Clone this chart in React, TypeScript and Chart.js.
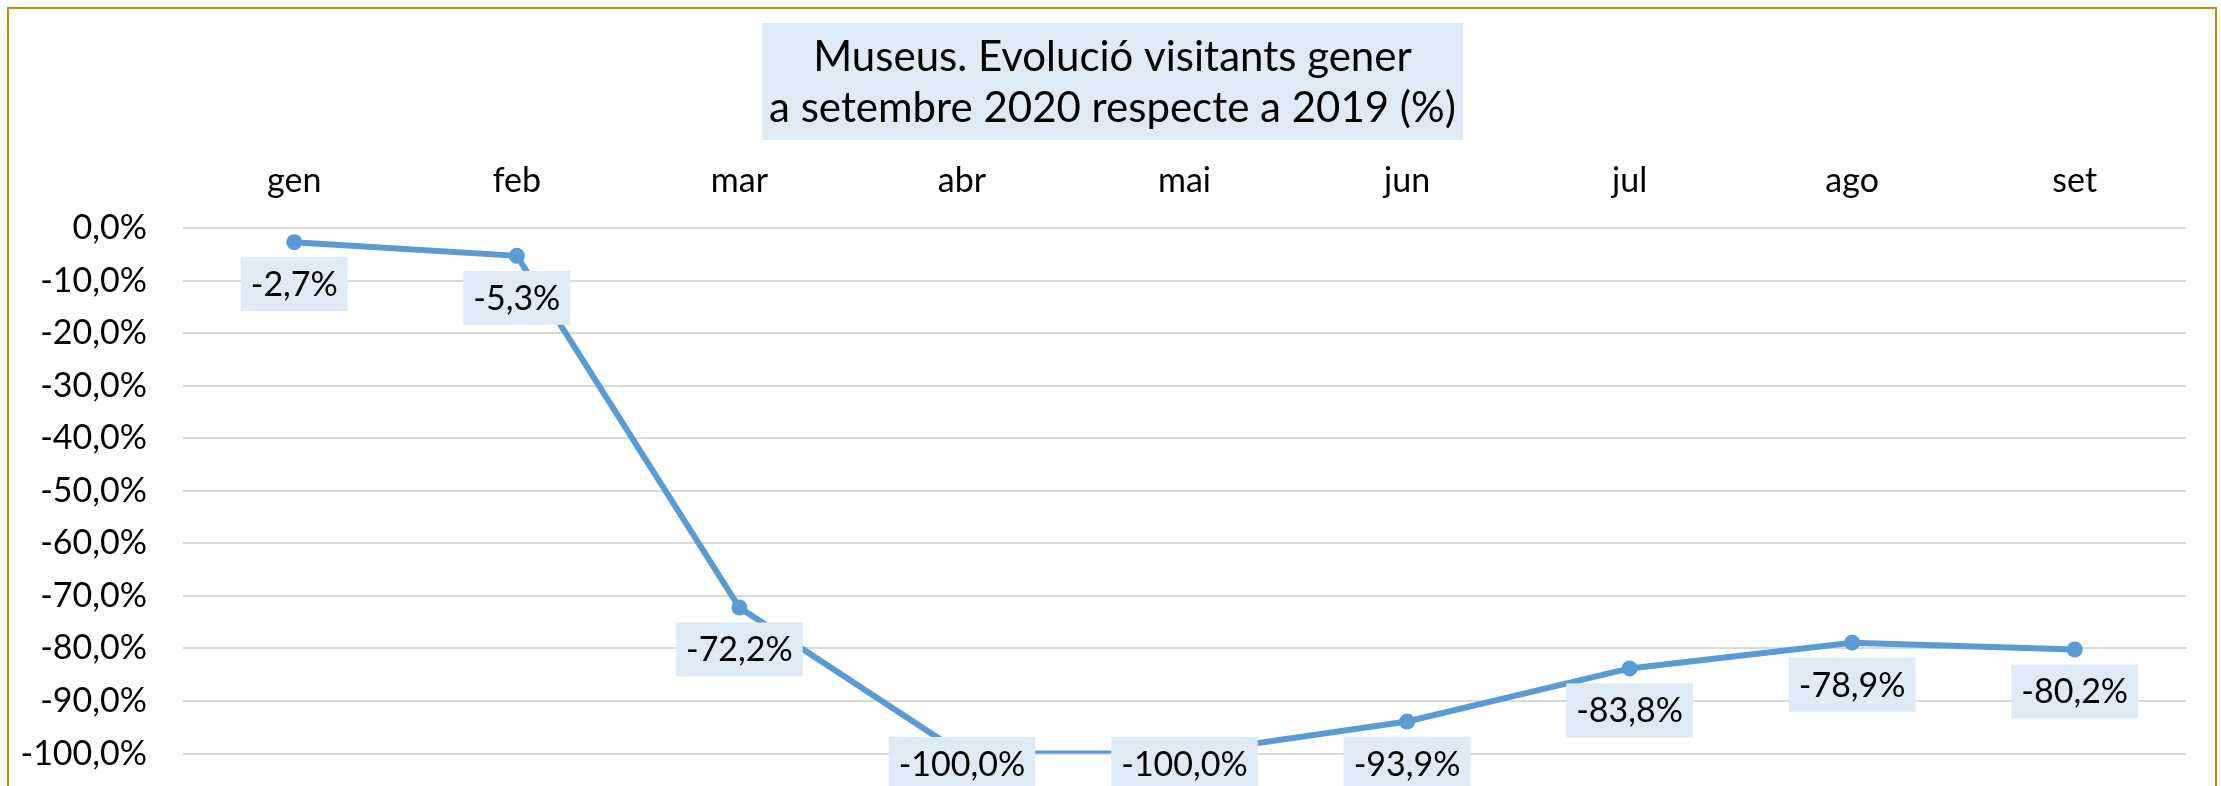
import React, { useEffect, useRef } from "react";
import { Chart, registerables } from "chart.js";

Chart.register(...registerables);

const months: string[] = ["gen", "feb", "mar", "abr", "mai", "jun", "jul", "ago", "set"];
const variation: number[] = [-2.7, -5.3, -72.2, -100.0, -100.0, -93.9, -83.8, -78.9, -80.2];
const titleLines: string[] = ["Museus. Evolució visitants gener", "a setembre 2020 respecte a 2019 (%)"];
const yMin = -100;
const yMax = 0;
const yStep = 10;

const FONT = "Lato, 'Open Sans', sans-serif";
const fmt = (v: number) => v.toFixed(1).replace(".", ",") + "%";

const framePlugin = {
  id: "frame",
  beforeDraw(chart: any) {
    const ctx = chart.ctx;
    ctx.save();
    ctx.fillStyle = "#ffffff";
    ctx.fillRect(0, 0, chart.width, chart.height);
    ctx.strokeStyle = "#BF9000";
    ctx.lineWidth = 2;
    ctx.beginPath();
    ctx.moveTo(8, chart.height + 5);
    ctx.lineTo(8, 8);
    ctx.lineTo(2216, 8);
    ctx.lineTo(2216, chart.height + 5);
    ctx.stroke();

    // title box
    ctx.fillStyle = "#DEEBF7";
    ctx.fillRect(762, 23, 701, 117);
    ctx.fillStyle = "#000000";
    ctx.font = `42px ${FONT}`;
    ctx.textAlign = "center";
    ctx.textBaseline = "alphabetic";
    ctx.fillText(titleLines[0], 1112.5, 71);
    ctx.fillText(titleLines[1], 1112.5, 122);
    ctx.restore();
  },
};

const labelPlugin = {
  id: "pointLabels",
  afterDatasetsDraw(chart: any) {
    const ctx = chart.ctx;
    const meta = chart.getDatasetMeta(0);
    const data = chart.data.datasets[0].data as number[];
    ctx.save();
    ctx.font = `34px ${FONT}`;
    ctx.textAlign = "center";
    ctx.textBaseline = "middle";
    meta.data.forEach((pt: any, i: number) => {
      const text = fmt(data[i]);
      const tw = ctx.measureText(text).width;
      const w = tw + 20;
      const h = 54;
      const top = Math.min(pt.y + 15, 737);
      ctx.fillStyle = "#DEEBF7";
      ctx.fillRect(pt.x - w / 2, top, w, h);
      ctx.fillStyle = "#000000";
      ctx.fillText(text, pt.x, top + h / 2 + 1);
    });
    ctx.restore();
  },
};

export default function App() {
  const ref = useRef<HTMLCanvasElement | null>(null);
  useEffect(() => {
    if (!ref.current) return;
    const chart = new Chart(ref.current, {
      type: "line",
      data: {
        labels: months,
        datasets: [
          {
            data: variation,
            borderColor: "#5B9BD5",
            backgroundColor: "#5B9BD5",
            borderWidth: 6,
            pointRadius: 8,
            pointBorderWidth: 0,
            pointBackgroundColor: "#5B9BD5",
            tension: 0,
            fill: false,
          },
        ],
      },
      options: {
        responsive: false,
        animation: false,
        devicePixelRatio: 1,
        layout: { autoPadding: false, padding: { left: 0, top: 0, right: 35, bottom: 32.4 } },
        plugins: {
          legend: { display: false },
          title: { display: false },
          tooltip: { enabled: false },
        },
        scales: {
          x: {
            type: "category",
            position: "top",
            offset: true,
            grid: { display: false, drawTicks: false },
            border: { display: false },
            ticks: {
              color: "#000000",
              font: { family: FONT, size: 34 },
              padding: 27,
              maxRotation: 0,
            },
            afterFit: (scale: any) => {
              scale.height = 228;
              scale.paddingLeft = 0;
              scale.paddingRight = 0;
            },
          },
          y: {
            min: yMin,
            max: yMax,
            grid: { color: "#D9D9D9", lineWidth: 2, drawTicks: false },
            border: { display: false },
            ticks: {
              stepSize: yStep,
              color: "#000000",
              font: { family: FONT, size: 34 },
              padding: 36,
              callback: (v: any) => fmt(Number(v)),
            },
            afterFit: (scale: any) => {
              scale.width = 183;
              scale.paddingTop = 0;
              scale.paddingBottom = 0;
            },
          },
        },
      },
      plugins: [framePlugin, labelPlugin],
    });
    return () => chart.destroy();
  }, []);
  return (
    <div style={{ position: "fixed", left: 0, top: 0, width: 2221, height: 786, overflow: "hidden" }}>
      <canvas ref={ref} width={2221} height={786} style={{ display: "block" }} />
    </div>
  );
}
